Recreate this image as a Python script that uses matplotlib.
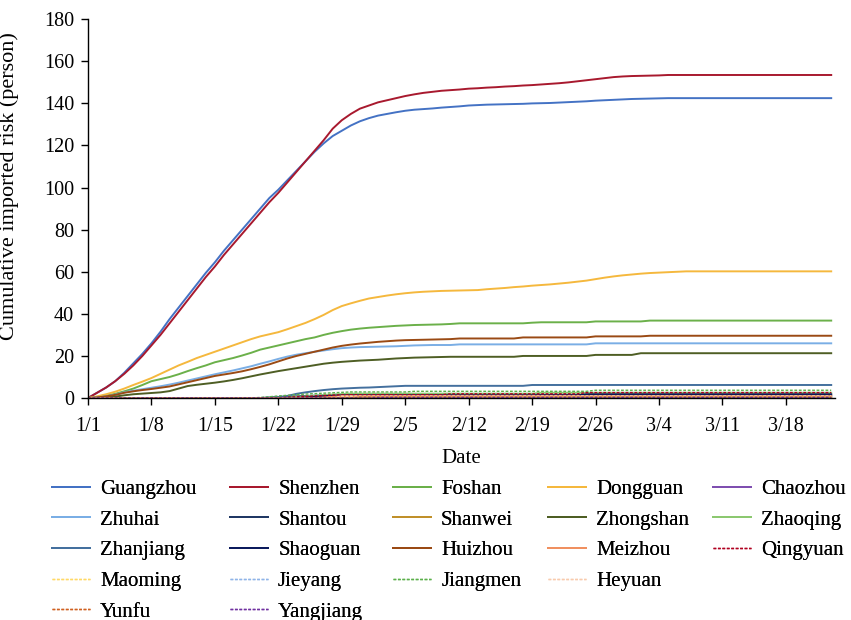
import matplotlib

matplotlib.use("Agg")
import matplotlib.pyplot as plt
import numpy as np

plt.rcParams.update(
    {
        "font.family": ["Liberation Serif", "DejaVu Serif"],
        "font.size": 14.5,
        "axes.linewidth": 1.0,
        "axes.spines.right": False,
        "axes.spines.top": False,
    }
)

# daily cumulative imported risk, 1/1 .. 3/23 (83 days)
GUANGZHOU = [
    0, 2.5, 5, 8, 12, 16.5, 21, 26, 31.5, 37.5,
    43, 48.5, 54, 59.5, 64.5, 70, 75, 80, 85, 90,
    95, 99, 103.5, 108, 112.5, 117, 121, 124.5, 127, 129.5,
    131.5, 133, 134.2, 135, 135.8, 136.5, 137, 137.3, 137.6, 138,
    138.3, 138.6, 139, 139.2, 139.4, 139.5, 139.6, 139.7, 139.8, 140,
    140.1, 140.2, 140.4, 140.6, 140.8, 141, 141.3, 141.5, 141.7, 141.9,
    142.1, 142.2, 142.3, 142.4, 142.5, 142.5, 142.5, 142.5, 142.5, 142.5,
    142.5, 142.5, 142.5, 142.5, 142.5, 142.5, 142.5, 142.5, 142.5, 142.5,
    142.5, 142.5, 142.5,
]
SHENZHEN = [
    0, 2.5, 5, 8, 11.5, 15.5, 20, 25, 30, 35.5,
    41, 46.5, 52, 57.5, 62.5, 68, 73, 78, 83, 88,
    93, 97.5, 102.5, 107.5, 112.5, 117.5, 122.5, 128, 132, 135,
    137.5, 139, 140.5, 141.5, 142.5, 143.5, 144.3, 145, 145.5, 146,
    146.3, 146.6, 147, 147.2, 147.5, 147.7, 148, 148.2, 148.5, 148.7,
    149, 149.3, 149.6, 150, 150.5, 151, 151.5, 152, 152.5, 152.8,
    153, 153.1, 153.2, 153.3, 153.5, 153.5, 153.5, 153.5, 153.5, 153.5,
    153.5, 153.5, 153.5, 153.5, 153.5, 153.5, 153.5, 153.5, 153.5, 153.5,
    153.5, 153.5, 153.5,
]
FOSHAN = [
    0, 0.5, 1.2, 2, 3.2, 4.5, 6.2, 8, 9, 10,
    11.3, 12.8, 14.2, 15.5, 17, 18, 19, 20.2, 21.5, 23,
    24, 25, 26, 27, 28, 28.8, 30, 31, 31.8, 32.5,
    33, 33.4, 33.7, 34, 34.3, 34.5, 34.7, 34.8, 34.9, 35,
    35.2, 35.5, 35.5, 35.5, 35.5, 35.5, 35.5, 35.5, 35.5, 35.8,
    36, 36, 36, 36, 36, 36, 36.4, 36.4, 36.4, 36.4,
    36.4, 36.4, 36.8, 36.8, 36.8, 36.8, 36.8, 36.8, 36.8, 36.8,
    36.8, 36.8, 36.8, 36.8, 36.8, 36.8, 36.8, 36.8, 36.8, 36.8,
    36.8, 36.8, 36.8,
]
DONGGUAN = [
    0, 0.8, 1.8, 3, 4.5, 6.2, 7.8, 9.5, 11.5, 13.5,
    15.5, 17.2, 19, 20.5, 22, 23.5, 25, 26.5, 28, 29.3,
    30.3, 31.3, 32.7, 34.2, 35.7, 37.5, 39.5, 41.8, 43.7, 45,
    46.2, 47.3, 48, 48.7, 49.3, 49.8, 50.2, 50.5, 50.7, 50.9,
    51, 51.1, 51.2, 51.3, 51.7, 52, 52.3, 52.7, 53, 53.4,
    53.7, 54, 54.4, 54.8, 55.3, 55.8, 56.5, 57.2, 57.8, 58.3,
    58.7, 59.1, 59.4, 59.6, 59.8, 60, 60.2, 60.2, 60.2, 60.2,
    60.2, 60.2, 60.2, 60.2, 60.2, 60.2, 60.2, 60.2, 60.2, 60.2,
    60.2, 60.2, 60.2,
]
CHAOZHOU = [
    0, 0, 0, 0, 0, 0, 0, 0, 0, 0,
    0, 0, 0, 0, 0, 0, 0, 0, 0, 0,
    0, 0, 0, 0, 0, 0.3, 0.3, 0.3, 0.3, 0.3,
    0.3, 0.3, 0.3, 0.3, 0.3, 0.3, 0.3, 0.3, 0.3, 0.3,
    0.3, 0.3, 0.3, 0.3, 0.3, 0.3, 0.3, 0.3, 0.3, 0.3,
    0.3, 0.3, 0.3, 0.3, 0.3, 0.3, 0.3, 0.3, 0.3, 0.3,
    0.3, 0.3, 0.3, 0.3, 0.3, 0.3, 0.3, 0.3, 0.3, 0.3,
    0.3, 0.3, 0.3, 0.3, 0.3, 0.3, 0.3, 0.3, 0.3, 0.3,
    0.3, 0.3, 0.3,
]
ZHUHAI = [
    0, 0.3, 0.8, 1.6, 2.7, 3.5, 4.2, 4.9, 5.6, 6.4,
    7.3, 8.3, 9.3, 10.3, 11.3, 12.2, 13.1, 14.1, 15.1, 16.3,
    17.4, 18.6, 19.7, 20.6, 21.3, 22, 22.6, 23.2, 23.7, 24,
    24.2, 24.3, 24.4, 24.5, 24.6, 24.8, 25, 25.1, 25.2, 25.2,
    25.2, 25.5, 25.5, 25.5, 25.5, 25.5, 25.5, 25.5, 25.5, 25.5,
    25.5, 25.5, 25.5, 25.5, 25.5, 25.5, 26, 26, 26, 26,
    26, 26, 26, 26, 26, 26, 26, 26, 26, 26,
    26, 26, 26, 26, 26, 26, 26, 26, 26, 26,
    26, 26, 26,
]
SHANTOU = [
    0, 0, 0, 0, 0, 0, 0, 0, 0, 0,
    0, 0, 0, 0, 0, 0, 0, 0, 0, 0,
    0.2, 0.4, 0.6, 0.8, 1.0, 1.1, 1.2, 1.3, 1.4, 1.4,
    1.4, 1.4, 1.4, 1.4, 1.4, 1.4, 1.4, 1.4, 1.4, 1.4,
    1.4, 1.4, 1.4, 1.4, 1.4, 1.4, 1.4, 1.4, 1.4, 1.4,
    1.4, 1.4, 1.4, 1.4, 1.4, 1.4, 1.4, 1.4, 1.4, 1.4,
    1.4, 1.4, 1.4, 1.4, 1.4, 1.4, 1.4, 1.4, 1.4, 1.4,
    1.4, 1.4, 1.4, 1.4, 1.4, 1.4, 1.4, 1.4, 1.4, 1.4,
    1.4, 1.4, 1.4,
]
SHANWEI = [
    0, 0, 0, 0, 0, 0, 0, 0, 0, 0,
    0, 0, 0, 0, 0, 0, 0, 0, 0, 0,
    0, 0, 0, 0, 0, 0, 0, 0.4, 0.4, 0.4,
    0.4, 0.4, 0.4, 0.4, 0.4, 0.4, 0.4, 0.4, 0.4, 0.4,
    0.4, 0.4, 0.4, 0.4, 0.4, 0.4, 0.4, 0.4, 0.4, 0.4,
    0.4, 0.4, 0.4, 0.4, 0.4, 0.4, 0.4, 0.4, 0.4, 0.4,
    0.4, 0.4, 0.4, 0.4, 0.4, 0.4, 0.4, 0.4, 0.4, 0.4,
    0.4, 0.4, 0.4, 0.4, 0.4, 0.4, 0.4, 0.4, 0.4, 0.4,
    0.4, 0.4, 0.4,
]
ZHONGSHAN = [
    0, 0.1, 0.3, 0.7, 1.3, 1.8, 2.1, 2.4, 2.7, 3.3,
    4.5, 5.7, 6.3, 6.8, 7.3, 7.9, 8.6, 9.4, 10.3, 11.2,
    12, 12.8, 13.5, 14.2, 14.9, 15.6, 16.3, 16.8, 17.2, 17.5,
    17.8, 18, 18.2, 18.5, 18.8, 19, 19.2, 19.3, 19.4, 19.5,
    19.6, 19.6, 19.6, 19.6, 19.6, 19.6, 19.6, 19.6, 20, 20,
    20, 20, 20, 20, 20, 20, 20.5, 20.5, 20.5, 20.5,
    20.5, 21.3, 21.3, 21.3, 21.3, 21.3, 21.3, 21.3, 21.3, 21.3,
    21.3, 21.3, 21.3, 21.3, 21.3, 21.3, 21.3, 21.3, 21.3, 21.3,
    21.3, 21.3, 21.3,
]
ZHAOQING = [
    0, 0, 0, 0, 0, 0, 0, 0, 0, 0,
    0, 0, 0, 0, 0, 0, 0, 0, 0, 0,
    0, 0, 0.2, 0.5, 0.8, 1.1, 1.4, 1.7, 1.9, 2.1,
    2.1, 2.1, 2.1, 2.1, 2.1, 2.1, 2.1, 2.1, 2.1, 2.1,
    2.1, 2.1, 2.1, 2.1, 2.1, 2.1, 2.1, 2.1, 2.1, 2.1,
    2.5, 2.5, 2.5, 2.5, 2.5, 2.5, 2.5, 2.5, 2.5, 2.5,
    2.5, 2.5, 2.5, 2.5, 2.5, 2.5, 2.5, 2.5, 2.5, 2.5,
    2.5, 2.5, 2.5, 2.5, 2.5, 2.5, 2.5, 2.5, 2.5, 2.5,
    2.5, 2.5, 2.5,
]
ZHANJIANG = [
    0, 0, 0, 0, 0, 0, 0, 0, 0, 0,
    0, 0, 0, 0, 0, 0, 0, 0, 0, 0,
    0.2, 0.5, 1, 2, 2.7, 3.3, 3.8, 4.2, 4.5, 4.7,
    4.9, 5, 5.2, 5.4, 5.6, 5.8, 5.8, 5.8, 5.8, 5.8,
    5.8, 5.8, 5.8, 5.8, 5.8, 5.8, 5.8, 5.8, 5.8, 6.2,
    6.2, 6.2, 6.2, 6.2, 6.2, 6.2, 6.2, 6.2, 6.2, 6.2,
    6.2, 6.2, 6.2, 6.2, 6.2, 6.2, 6.2, 6.2, 6.2, 6.2,
    6.2, 6.2, 6.2, 6.2, 6.2, 6.2, 6.2, 6.2, 6.2, 6.2,
    6.2, 6.2, 6.2,
]
SHAOGUAN = [
    0, 0, 0, 0, 0, 0, 0, 0, 0, 0,
    0, 0, 0, 0, 0, 0, 0, 0, 0, 0,
    0, 0, 0, 0, 0.3, 0.6, 0.9, 1.1, 1.3, 1.3,
    1.3, 1.3, 1.3, 1.3, 1.3, 1.3, 1.3, 1.3, 1.3, 1.3,
    1.3, 1.3, 1.3, 1.3, 1.3, 1.3, 1.3, 1.3, 1.3, 1.3,
    1.3, 1.3, 1.3, 1.3, 1.3, 1.8, 1.8, 1.8, 1.8, 1.8,
    1.8, 1.8, 1.8, 1.8, 1.8, 1.8, 1.8, 1.8, 1.8, 1.8,
    1.8, 1.8, 1.8, 1.8, 1.8, 1.8, 1.8, 1.8, 1.8, 1.8,
    1.8, 1.8, 1.8,
]
HUIZHOU = [
    0, 0.3, 0.8, 1.5, 2.5, 3.2, 3.8, 4.3, 4.9, 5.5,
    6.5, 7.5, 8.5, 9.5, 10.5, 11.2, 11.9, 12.7, 13.7, 14.8,
    16, 17.4, 18.8, 20, 21, 22, 23, 24, 24.8, 25.4,
    25.9, 26.3, 26.7, 27, 27.3, 27.5, 27.6, 27.7, 27.8, 27.9,
    28, 28.3, 28.3, 28.3, 28.3, 28.3, 28.3, 28.3, 28.8, 28.8,
    28.8, 28.8, 28.8, 28.8, 28.8, 28.8, 29.3, 29.3, 29.3, 29.3,
    29.3, 29.3, 29.6, 29.6, 29.6, 29.6, 29.6, 29.6, 29.6, 29.6,
    29.6, 29.6, 29.6, 29.6, 29.6, 29.6, 29.6, 29.6, 29.6, 29.6,
    29.6, 29.6, 29.6,
]
MEIZHOU = [
    0, 0, 0, 0, 0, 0, 0, 0, 0, 0,
    0, 0, 0, 0, 0, 0, 0, 0, 0, 0,
    0, 0, 0, 0, 0, 0, 0.3, 0.6, 0.9, 0.9,
    0.9, 0.9, 0.9, 0.9, 0.9, 0.9, 0.9, 0.9, 0.9, 0.9,
    0.9, 0.9, 0.9, 0.9, 0.9, 0.9, 0.9, 0.9, 0.9, 0.9,
    0.9, 0.9, 0.9, 0.9, 0.9, 0.9, 0.9, 0.9, 0.9, 0.9,
    0.9, 0.9, 0.9, 0.9, 0.9, 0.9, 0.9, 0.9, 0.9, 0.9,
    0.9, 0.9, 0.9, 0.9, 0.9, 0.9, 0.9, 0.9, 0.9, 0.9,
    0.9, 0.9, 0.9,
]
QINGYUAN = [
    0, 0, 0, 0, 0, 0, 0, 0, 0, 0,
    0, 0, 0, 0, 0, 0, 0, 0, 0, 0,
    0, 0.2, 0.4, 0.6, 0.8, 1.0, 1.2, 1.4, 1.5, 1.6,
    1.6, 1.6, 1.6, 1.6, 1.6, 1.6, 1.6, 1.6, 1.6, 1.6,
    2.0, 2.0, 2.0, 2.0, 2.0, 2.0, 2.0, 2.0, 2.0, 2.0,
    2.0, 2.0, 2.0, 2.0, 2.0, 2.6, 2.6, 2.6, 2.6, 2.6,
    2.6, 2.6, 2.6, 2.6, 2.6, 2.6, 2.6, 2.6, 2.6, 2.6,
    2.6, 2.6, 2.6, 2.6, 2.6, 2.6, 2.6, 2.6, 2.6, 2.6,
    2.6, 2.6, 2.6,
]
MAOMING = [
    0, 0, 0, 0, 0, 0, 0, 0, 0, 0,
    0, 0, 0, 0, 0, 0, 0, 0, 0, 0,
    0, 0, 0, 0, 0, 0, 0, 0, 0.6, 0.6,
    0.6, 0.6, 0.6, 0.6, 0.6, 0.6, 0.6, 0.6, 0.6, 0.6,
    0.6, 0.6, 0.6, 0.6, 0.6, 0.6, 0.6, 0.6, 0.6, 0.6,
    0.6, 0.6, 0.6, 0.6, 0.6, 0.6, 0.6, 0.6, 0.6, 0.6,
    0.6, 0.6, 0.6, 0.6, 0.6, 0.6, 0.6, 0.6, 0.6, 0.6,
    0.6, 0.6, 0.6, 0.6, 0.6, 0.6, 0.6, 0.6, 0.6, 0.6,
    0.6, 0.6, 0.6,
]
JIEYANG = [
    0, 0, 0, 0, 0, 0, 0, 0, 0, 0,
    0, 0, 0, 0, 0, 0, 0, 0, 0, 0,
    0, 0, 0, 0, 0, 0, 0, 0, 0, 0,
    0.5, 0.5, 0.5, 0.5, 0.5, 0.5, 0.5, 0.5, 0.5, 0.5,
    0.5, 0.5, 0.5, 0.5, 0.5, 0.5, 0.5, 0.5, 0.5, 0.5,
    0.5, 0.5, 0.5, 0.5, 0.5, 0.5, 0.5, 0.5, 0.5, 0.5,
    0.5, 0.5, 0.5, 0.5, 0.5, 0.5, 0.5, 0.5, 0.5, 0.5,
    0.5, 0.5, 0.5, 0.5, 0.5, 0.5, 0.5, 0.5, 0.5, 0.5,
    0.5, 0.5, 0.5,
]
JIANGMEN = [
    0, 0, 0, 0, 0, 0, 0, 0, 0, 0,
    0, 0, 0, 0, 0, 0, 0, 0, 0, 0.3,
    0.6, 1.0, 1.3, 1.6, 1.9, 2.1, 2.3, 2.5, 2.7, 2.9,
    2.9, 2.9, 2.9, 2.9, 2.9, 2.9, 3.2, 3.2, 3.2, 3.2,
    3.2, 3.2, 3.2, 3.2, 3.2, 3.2, 3.2, 3.2, 3.2, 3.2,
    3.2, 3.2, 3.2, 3.2, 3.2, 3.2, 3.7, 3.7, 3.7, 3.7,
    3.7, 3.7, 3.7, 3.7, 3.7, 3.7, 3.7, 3.7, 3.7, 3.7,
    3.7, 3.7, 3.7, 3.7, 3.7, 3.7, 3.7, 3.7, 3.7, 3.7,
    3.7, 3.7, 3.7,
]
HEYUAN = [
    0, 0, 0, 0, 0, 0, 0, 0, 0, 0,
    0, 0, 0, 0, 0, 0, 0, 0, 0, 0,
    0, 0, 0, 0, 0, 0, 0, 0, 1.0, 1.0,
    1.0, 1.0, 1.0, 1.0, 1.0, 1.0, 1.0, 1.0, 1.0, 1.0,
    1.0, 1.0, 1.0, 1.0, 1.0, 1.0, 1.0, 1.0, 1.0, 1.0,
    1.0, 1.0, 1.0, 1.0, 1.0, 1.0, 1.0, 1.0, 1.0, 1.0,
    1.0, 1.0, 1.0, 1.0, 1.0, 1.0, 1.0, 1.0, 1.0, 1.0,
    1.0, 1.0, 1.0, 1.0, 1.0, 1.0, 1.0, 1.0, 1.0, 1.0,
    1.0, 1.0, 1.0,
]
YUNFU = [
    0, 0, 0, 0, 0, 0, 0, 0, 0, 0,
    0, 0, 0, 0, 0, 0, 0, 0, 0, 0,
    0, 0, 0, 0, 0, 0, 0, 0, 0, 0,
    0.5, 0.5, 0.5, 0.5, 0.5, 0.5, 0.5, 0.5, 0.5, 0.5,
    0.5, 0.5, 0.5, 0.5, 0.5, 0.5, 0.5, 0.5, 0.5, 0.5,
    0.5, 0.5, 0.5, 0.5, 0.5, 0.5, 0.5, 0.5, 0.5, 0.5,
    0.5, 0.5, 0.5, 0.5, 0.5, 0.5, 0.5, 0.5, 0.5, 0.5,
    0.5, 0.5, 0.5, 0.5, 0.5, 0.5, 0.5, 0.5, 0.5, 0.5,
    0.5, 0.5, 0.5,
]
YANGJIANG = [
    0, 0, 0, 0, 0, 0, 0, 0, 0, 0,
    0, 0, 0, 0, 0, 0, 0, 0, 0, 0,
    0, 0, 0, 0, 0, 0, 0, 0, 0, 0,
    0, 0, 0.2, 0.2, 0.2, 0.2, 0.2, 0.2, 0.2, 0.2,
    0.2, 0.2, 0.2, 0.2, 0.2, 0.2, 0.2, 0.2, 0.2, 0.2,
    0.2, 0.2, 0.2, 0.2, 0.2, 0.2, 0.2, 0.2, 0.2, 0.2,
    0.2, 0.2, 0.2, 0.2, 0.2, 0.2, 0.2, 0.2, 0.2, 0.2,
    0.2, 0.2, 0.2, 0.2, 0.2, 0.2, 0.2, 0.2, 0.2, 0.2,
    0.2, 0.2, 0.2,
]

DATE_LABELS = ["1/1", "1/8", "1/15", "1/22", "1/29", "2/5", "2/12", "2/19", "2/26", "3/4", "3/11", "3/18"]

# (name, values, colour, dashed) in series order
SERIES = [
    ("Guangzhou", GUANGZHOU, "#4472C4", False),
    ("Shenzhen", SHENZHEN, "#A8192E", False),
    ("Foshan", FOSHAN, "#6BB04A", False),
    ("Dongguan", DONGGUAN, "#F5B83D", False),
    ("Chaozhou", CHAOZHOU, "#7F4FB0", False),
    ("Zhuhai", ZHUHAI, "#7AAEE5", False),
    ("Shantou", SHANTOU, "#203864", False),
    ("Shanwei", SHANWEI, "#C0902A", False),
    ("Zhongshan", ZHONGSHAN, "#4E5E24", False),
    ("Zhaoqing", ZHAOQING, "#8CC870", False),
    ("Zhanjiang", ZHANJIANG, "#44709E", False),
    ("Shaoguan", SHAOGUAN, "#0B1A5C", False),
    ("Huizhou", HUIZHOU, "#9A4A14", False),
    ("Meizhou", MEIZHOU, "#F09060", False),
    ("Qingyuan", QINGYUAN, "#B00020", True),
    ("Maoming", MAOMING, "#FFD966", True),
    ("Jieyang", JIEYANG, "#8FB4E8", True),
    ("Jiangmen", JIANGMEN, "#5BB04A", True),
    ("Heyuan", HEYUAN, "#F8CBAD", True),
    ("Yunfu", YUNFU, "#D06020", True),
    ("Yangjiang", YANGJIANG, "#7030A0", True),
]

fig = plt.figure(figsize=(8.51, 6.2), dpi=100)
ax = fig.add_axes([0.1034, 0.358, 0.8776, 0.611])

days = np.arange(len(GUANGZHOU))
handles = []
for name, values, color, dashed in SERIES:
    (line,) = ax.plot(
        days,
        values,
        color=color,
        linewidth=1.0 if dashed else 1.4,
        linestyle=(0, (2, 1.2)) if dashed else "-",
        label=name,
    )
    handles.append(line)

ax.set_xlim(0, 82.4)
ax.set_ylim(0, 180)
ax.set_yticks(np.arange(0, 181, 20))
ax.set_xticks(np.arange(0, 7 * len(DATE_LABELS), 7), DATE_LABELS)
ax.tick_params(direction="out", length=5, width=1, labelsize=14.5)
ax.tick_params(axis="x", pad=9)
ax.tick_params(axis="y", pad=5)
ax.set_xlabel("Date", fontsize=15, labelpad=9)
ax.set_ylabel("Cumulative imported risk (person)", fontsize=16)
ax.yaxis.set_label_coords(-0.0924, 0.559)

# legend: one block per column so the columns sit where the reference has them
legend_rows = [handles[0:5], handles[5:10], handles[10:15], handles[15:19], handles[19:21]]
column_x = [52, 230, 393, 548, 713]
for c, x in enumerate(column_x):
    col = [row[c] for row in legend_rows if c < len(row)]
    leg = fig.legend(
        col,
        [h.get_label() for h in col],
        loc="upper left",
        bbox_to_anchor=(x / 851, 0.2266),
        frameon=False,
        fontsize=15,
        handlelength=1.83,
        handletextpad=0.48,
        labelspacing=0.53,
        borderpad=0,
        borderaxespad=0,
    )
    fig.add_artist(leg)

fig.savefig("out.png", dpi=100)
